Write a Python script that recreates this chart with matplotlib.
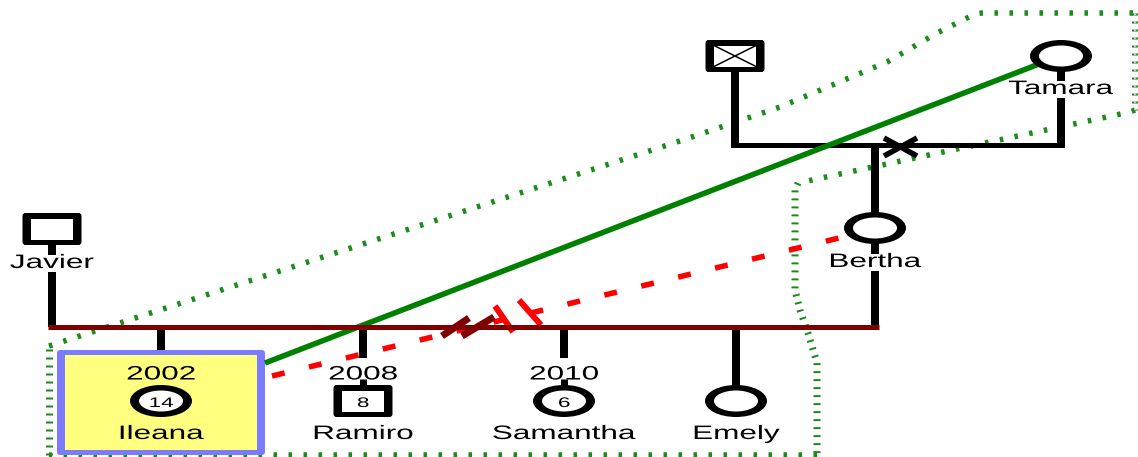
import matplotlib
matplotlib.use('Agg')
import matplotlib.pyplot as plt
from matplotlib.patches import Ellipse, FancyBboxPatch, Rectangle
from matplotlib.patheffects import AbstractPathEffect
from matplotlib.transforms import Affine2D

plt.rcParams['font.family'] = ['Liberation Sans', 'DejaVu Sans']
plt.rcParams['lines.scale_dashes'] = False

# family data
parents = ['Javier', 'Bertha']
parent_sex = ['M', 'F']
grandparents = ['', 'Tamara']
grandparent_sex = ['M', 'F']
grandparent_dead = [True, False]
children = ['Ileana', 'Ramiro', 'Samantha', 'Emely']
child_sex = ['F', 'M', 'F', 'F']
child_years = ['2002', '2008', '2010', '']
child_ages = ['14', '8', '6', '']
index_person = 'Ileana'

# layout, in pixels of the picture (the picture is stretched sideways)
PX = 0.72          # points per pixel at dpi 100
STRETCH = 1.62     # sideways stretch of the text
parent_x = [52, 875]
parent_y = [229, 228]
grand_x = [735, 1061]
grand_y = [56, 56]
child_x = [161, 363, 564, 736]
child_y = 401
marry_y = 327
grand_marry_y = 145
household = [(49, 455), (49, 346), (283, 270), (683, 140), (780, 107), (887, 62),
             (937, 33), (975, 14), (982, 13), (1135, 13), (1135, 110), (1130, 112),
             (798, 183), (795, 190), (795, 290), (800, 310), (808, 333), (817, 363),
             (817, 455), (49, 455)]

GREEN = '#008000'
DOTS = '#1a8c1a'
RED = '#ff0000'
DARKRED = '#800000'


class Widen(AbstractPathEffect):
    """draw text paths wider than they are, about their middle"""
    def __init__(self, sx):
        super().__init__()
        self.sx = sx

    def draw_path(self, renderer, gc, tpath, affine, rgbFace=None):
        v = tpath.vertices
        cx = (v[:, 0].min() + v[:, 0].max()) / 2 if len(v) else 0
        widen = Affine2D().translate(-cx, 0).scale(self.sx, 1).translate(cx, 0)
        renderer.draw_path(gc, tpath, widen + affine, rgbFace)


fig = plt.figure(figsize=(11.38, 4.57), dpi=100)
ax = fig.add_axes([0, 0, 1, 1])
ax.set_xlim(0, 1138)
ax.set_ylim(457, 0)
ax.axis('off')


def line(xs, ys, w, color='black', z=3, **kw):
    ax.plot(xs, ys, color=color, lw=w * PX, solid_capstyle='butt', zorder=z, **kw)


def label(x, y, s, size=14, bg=False):
    t = ax.text(x, y, s, ha='center', va='baseline', fontsize=size,
                path_effects=[Widen(STRETCH)], zorder=7)
    if bg:
        t.set_bbox(dict(fc='white', ec='none', pad=0))


def symbol(x, y, sex, dead=False, inside=''):
    if sex == 'M':
        ax.add_patch(FancyBboxPatch((x - 29.5, y - 16), 59, 32,
                                    boxstyle='round,pad=0,rounding_size=3',
                                    fc='black', ec='none', zorder=5))
        ax.add_patch(Rectangle((x - 21, y - 10.5), 42, 21, fc='white', ec='none', zorder=5))
        if dead:
            line([x - 21, x + 21], [y - 10.5, y + 10.5], 1.5, z=6)
            line([x - 21, x + 21], [y + 10.5, y - 10.5], 1.5, z=6)
    else:
        ax.add_patch(Ellipse((x, y), 62, 32, fc='black', ec='none', zorder=5))
        ax.add_patch(Ellipse((x, y), 44, 21, fc='white', ec='none', zorder=5))
    if inside:
        label(x, y + 6, inside, size=10)


# household boundary, dotted
def dotted(run, vert):
    xs, ys = zip(*run)
    if vert:
        ax.plot(xs, ys, color=DOTS, lw=7 * PX, dashes=(2 * PX, 6 * PX), zorder=1)
    else:
        ax.plot(xs, ys, color=DOTS, lw=5.5 * PX, dashes=(3.5 * PX, 11.5 * PX), zorder=1)


run = [household[0]]
prev_vert = None
for a, b in zip(household[:-1], household[1:]):
    vert = abs(b[0] - a[0]) < abs(b[1] - a[1])
    if prev_vert is not None and vert != prev_vert:
        dotted(run, prev_vert)
        run = [a]
    run.append(b)
    prev_vert = vert
dotted(run, prev_vert)
# right edge is cut by the frame
ax.plot([1135, 1135], [13, 110], color='#c8c8c8', lw=2 * PX, dashes=(2 * PX, 6 * PX), zorder=1)

# index person highlight
ax.add_patch(FancyBboxPatch((57, 350), 208, 105, boxstyle='round,pad=0,rounding_size=3',
                            fc='#7b7bff', ec='none', zorder=2))
ax.add_patch(Rectangle((65, 355), 192, 95, fc='#ffff80', ec='none', zorder=2))

# grandparents
line([grand_x[0], grand_x[1]], [grand_marry_y, grand_marry_y], 5)
line([grand_x[0], grand_x[0]], [grand_y[0], grand_marry_y + 2.5], 8)
line([grand_x[1], grand_x[1]], [grand_y[1], grand_marry_y + 2.5], 8)
line([parent_x[1], parent_x[1]], [grand_marry_y, parent_y[1]], 8)
# divorce cross
line([884, 917], [138, 156], 5.5, z=4)
line([884, 917], [156, 138], 5.5, z=4)
for gx, gy, gs, gd, gn in zip(grand_x, grand_y, grandparent_sex, grandparent_dead, grandparents):
    symbol(gx, gy, gs, dead=gd)
    if gn:
        label(gx, gy + 38, gn, bg=True)

# parents
for px_, py_, ps, pn in zip(parent_x, parent_y, parent_sex, parents):
    line([px_, px_], [py_, marry_y], 8)
    symbol(px_, py_, ps)
    label(px_, py_ + 39, pn, bg=True)

# relationship lines from the index person
line([265, 1039], [363, 64], 5.5, color=GREEN, z=4)
ax.plot([272, 843], [376, 237], color=RED, lw=5.5 * PX, dashes=(13 * PX, 25 * PX),
        solid_capstyle='butt', dash_capstyle='butt', zorder=2)
line([495, 513], [306, 332], 6, color=RED, z=2)
line([519, 541], [300, 325], 6, color=RED, z=2)

# marriage line with separation marks
line([parent_x[0] - 4, parent_x[1] + 4], [marry_y, marry_y], 5, color=DARKRED, z=4)
line([442, 469], [336, 318], 7, color=DARKRED, z=4)
line([462, 494], [336, 317], 7, color=DARKRED, z=4)

# children
for cx, cs, cyear, cage, cn in zip(child_x, child_sex, child_years, child_ages, children):
    if cn == index_person:
        line([cx, cx], [marry_y, 350], 8)
    elif cyear:
        line([cx, cx], [marry_y, 358], 8)
        line([cx, cx], [379, child_y - 12], 7)
    else:
        line([cx, cx], [marry_y, child_y - 12], 8)
    symbol(cx, child_y, cs, inside=cage)
    if cyear:
        label(cx, 379.5, cyear)
    label(cx, 439, cn)

fig.savefig('out.png', dpi=100)
